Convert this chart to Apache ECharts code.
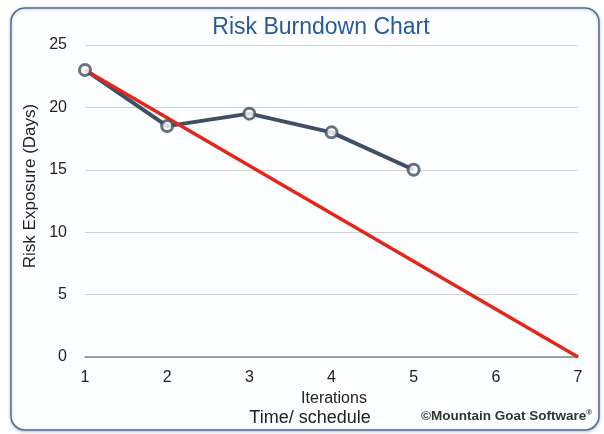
<!DOCTYPE html>
<html>
<head>
<meta charset="utf-8">
<script src="https://cdn.jsdelivr.net/npm/echarts@6/dist/echarts.min.js"></script>
<style>
html,body{margin:0;padding:0;background:#fff;}
#c{width:604px;height:434px;}
</style>
</head>
<body>
<div id="c"></div>
<script>
var iterations = [1, 2, 3, 4, 5];
var riskExposure = [23, 18.5, 19.5, 18, 15];
var idealIterations = [1, 7];
var idealExposure = [23, 0];
var yTicks = [0, 5, 10, 15, 20, 25];
var xTicks = [1, 2, 3, 4, 5, 6, 7];

var actualData = iterations.map(function (x, i) { return [x, riskExposure[i]]; });
var idealData = idealIterations.map(function (x, i) { return [x, idealExposure[i]]; });

var chart = echarts.init(document.getElementById('c'), null, {renderer: 'canvas'});
var font = 'Liberation Sans, Arial, sans-serif';
chart.setOption({
  animation: false,
  backgroundColor: '#fff',
  textStyle: {fontFamily: font},
  graphic: [
    {type: 'rect', z: -10, shape: {x: 11, y: 8, width: 588, height: 422, r: 14},
     style: {fill: '#fdfeff', stroke: '#4f6f90', lineWidth: 1.5,
             shadowColor: 'rgba(60,90,120,0.35)', shadowBlur: 3, shadowOffsetY: 1}},
    {type: 'text', x: 321, y: 28, z: 10,
     style: {text: 'Risk Burndown Chart', font: '23px ' + font, fill: '#285a97',
             align: 'center', verticalAlign: 'middle'}},
    {type: 'text', x: 310, y: 418, z: 10,
     style: {text: 'Time/ schedule', font: '18px ' + font, fill: '#222',
             align: 'center', verticalAlign: 'middle'}},
    {type: 'text', x: 30, y: 186, rotation: Math.PI / 2, z: 10,
     style: {text: 'Risk Exposure (Days)', font: '17px ' + font, fill: '#222',
             align: 'center', verticalAlign: 'middle'}},
    {type: 'text', x: 421, y: 416, z: 10,
     style: {text: '{a|©Mountain Goat Software}{b|®}', font: 'bold 13.5px ' + font, fill: '#333',
             verticalAlign: 'middle',
             rich: {a: {font: 'bold 13.5px ' + font, fill: '#333'},
                    b: {font: 'bold 8px ' + font, fill: '#333', verticalAlign: 'top', padding: [0, 0, 6, 0]}}}}
  ],
  grid: {left: 85, right: 26, top: 45, bottom: 77, outerBoundsMode: 'none', containLabel: false},
  xAxis: {
    type: 'value', min: xTicks[0], max: xTicks[xTicks.length - 1], interval: 1,
    name: 'Iterations', nameLocation: 'middle', nameGap: 34,
    nameTextStyle: {color: '#222', fontSize: 16, fontFamily: font, padding: [0, 0, 0, 5]},
    axisLine: {show: true, lineStyle: {color: '#888', width: 1.5}},
    axisTick: {show: false},
    splitLine: {show: false},
    axisLabel: {color: '#222', fontSize: 16, margin: 13, fontFamily: font}
  },
  yAxis: {
    type: 'value', min: yTicks[0], max: yTicks[yTicks.length - 1], interval: 5,
    axisLine: {show: false},
    axisTick: {show: false},
    splitLine: {show: true, lineStyle: {color: '#d0d0d0', width: 1}},
    axisLabel: {color: '#222', fontSize: 16, margin: 18, fontFamily: font}
  },
  series: [
    {type: 'line', data: actualData, z: 2, symbol: 'none',
     lineStyle: {color: '#3d5064', width: 4}},
    {type: 'line', data: idealData, z: 3, symbol: 'none',
     lineStyle: {color: '#e3261b', width: 3.5}},
    {type: 'scatter', data: actualData, z: 4, symbol: 'circle', symbolSize: 11,
     itemStyle: {color: '#fff', borderColor: '#3d5064', borderWidth: 3}}
  ]
});
</script>
</body>
</html>
